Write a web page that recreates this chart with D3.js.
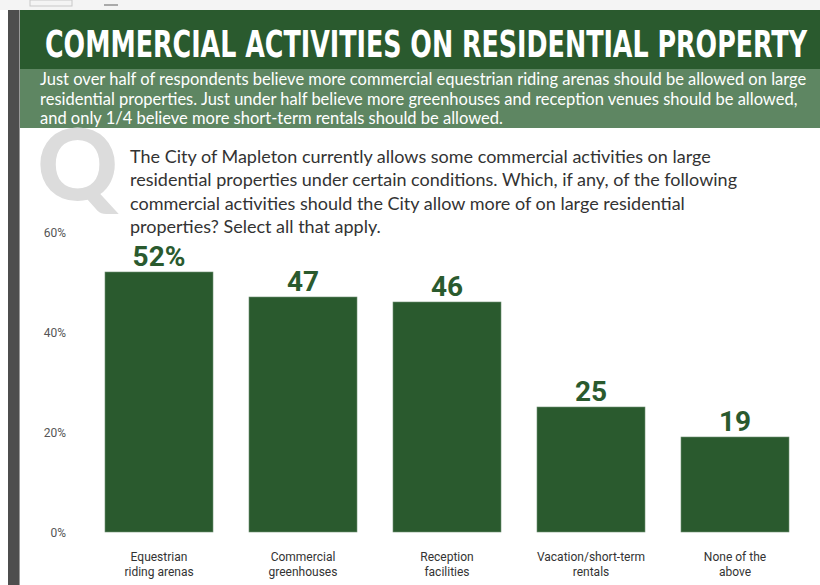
<!DOCTYPE html>
<html>
<head>
<meta charset="utf-8">
<script src="https://cdn.jsdelivr.net/npm/d3@7"></script>
<style>
  html, body { margin: 0; padding: 0; background: #fff; }
  svg { display: block; }
</style>
</head>
<body>
<svg id="chart" width="820" height="585"></svg>
<script>
const title = "COMMERCIAL ACTIVITIES ON RESIDENTIAL PROPERTY";
const subtitleLines = [
  "Just over half of respondents believe more commercial equestrian riding arenas should be allowed on large",
  "residential properties. Just under half believe more greenhouses and reception venues should be allowed,",
  "and only 1/4 believe more short-term rentals should be allowed."
];
const questionLines = [
  "The City of Mapleton currently allows some commercial activities on large",
  "residential properties under certain conditions. Which, if any, of the following",
  "commercial activities should the City allow more of on large residential",
  "properties? Select all that apply."
];
const categories = [
  "Equestrian|riding arenas",
  "Commercial|greenhouses",
  "Reception|facilities",
  "Vacation/short-term|rentals",
  "None of the|above"
];
const values = [52, 47, 46, 25, 19];
const valueLabels = ["52%", "47", "46", "25", "19"];
const yTicks = [0, 20, 40, 60];

const svg = d3.select("#chart");
const darkGreen = "#2a5a2e";

// top strip artifacts
svg.append("rect").attr("x", 0).attr("y", 0).attr("width", 820).attr("height", 10).attr("fill", "#f4f4f4");
svg.append("rect").attr("x", 30).attr("y", 0).attr("width", 42).attr("height", 6).attr("fill", "none").attr("stroke", "#c8c8c8");
svg.append("rect").attr("x", 104).attr("y", 4).attr("width", 14).attr("height", 2).attr("fill", "#aaa");

// left dark bar
svg.append("rect").attr("x", 8).attr("y", 10).attr("width", 12).attr("height", 575).attr("fill", "#4e4e4e");
svg.append("rect").attr("x", 19).attr("y", 10).attr("width", 1).attr("height", 575).attr("fill", "#9a9a9a");

// header bands
svg.append("rect").attr("x", 20).attr("y", 10).attr("width", 800).attr("height", 59).attr("fill", darkGreen);
svg.append("rect").attr("x", 20).attr("y", 69).attr("width", 800).attr("height", 59).attr("fill", "#5e8662");

svg.append("text")
  .attr("x", 45).attr("y", 57)
  .attr("textLength", 762).attr("lengthAdjust", "spacingAndGlyphs")
  .style("font-family", "'DejaVu Sans Condensed', 'DejaVu Sans', sans-serif")
  .style("font-weight", "bold").style("font-size", "37px")
  .attr("fill", "#fff")
  .text(title);

svg.append("g").selectAll("text").data(subtitleLines).join("text")
  .attr("x", 40).attr("y", (d, i) => 85 + i * 19.5)
  .style("font-family", "Lato, sans-serif").style("font-size", "16.5px")
  .attr("fill", "#fff")
  .text(d => d);

// big Q
svg.append("text")
  .attr("x", 37).attr("y", 200)
  .style("font-family", "Lato, sans-serif").style("font-weight", "900").style("font-size", "100px")
  .attr("fill", "#dcdcdc")
  .text("Q");

svg.append("g").selectAll("text").data(questionLines).join("text")
  .attr("x", 130).attr("y", (d, i) => 163 + i * 23.3)
  .style("font-family", "Lato, sans-serif").style("font-size", "18px")
  .attr("fill", "#333")
  .text(d => d);

// scales
const x = d3.scaleBand().domain(categories).range([87, 807]).paddingInner(0.25).paddingOuter(0.125);
const y = d3.scaleLinear().domain([0, 60]).range([532, 232]);

// y axis
const yAxis = svg.append("g").attr("transform", "translate(70,0)")
  .call(d3.axisLeft(y).tickValues(yTicks).tickSize(0).tickPadding(4).tickFormat(d => d + "%"));
yAxis.select(".domain").remove();
yAxis.selectAll("text")
  .style("font-family", "Roboto, sans-serif").style("font-size", "12px")
  .attr("fill", "#555").attr("dy", "0.4em");

// bars
svg.append("g").selectAll("rect").data(values).join("rect")
  .attr("x", (d, i) => x(categories[i]))
  .attr("y", d => y(d))
  .attr("width", x.bandwidth())
  .attr("height", d => y(0) - y(d))
  .attr("fill", darkGreen)
  .attr("stroke", "#6f8f72").attr("stroke-width", 0.6);

// value labels
svg.append("g").selectAll("text").data(values).join("text")
  .attr("x", (d, i) => x(categories[i]) + x.bandwidth() / 2)
  .attr("y", d => y(d) - 6)
  .attr("text-anchor", "middle")
  .style("font-family", "Roboto, sans-serif").style("font-weight", "bold").style("font-size", "28px")
  .attr("fill", darkGreen)
  .text((d, i) => valueLabels[i]);

// category labels
const cat = svg.append("g").selectAll("text").data(categories).join("text")
  .attr("x", d => x(d) + x.bandwidth() / 2)
  .attr("y", 561)
  .attr("text-anchor", "middle")
  .style("font-family", "Roboto, sans-serif").style("font-size", "12px")
  .attr("fill", "#333");
cat.selectAll("tspan").data(d => d.split("|")).join("tspan")
  .attr("x", function () { return d3.select(this.parentNode).attr("x"); })
  .attr("dy", (d, i) => i === 0 ? 0 : 15)
  .text(d => d);
</script>
</body>
</html>
